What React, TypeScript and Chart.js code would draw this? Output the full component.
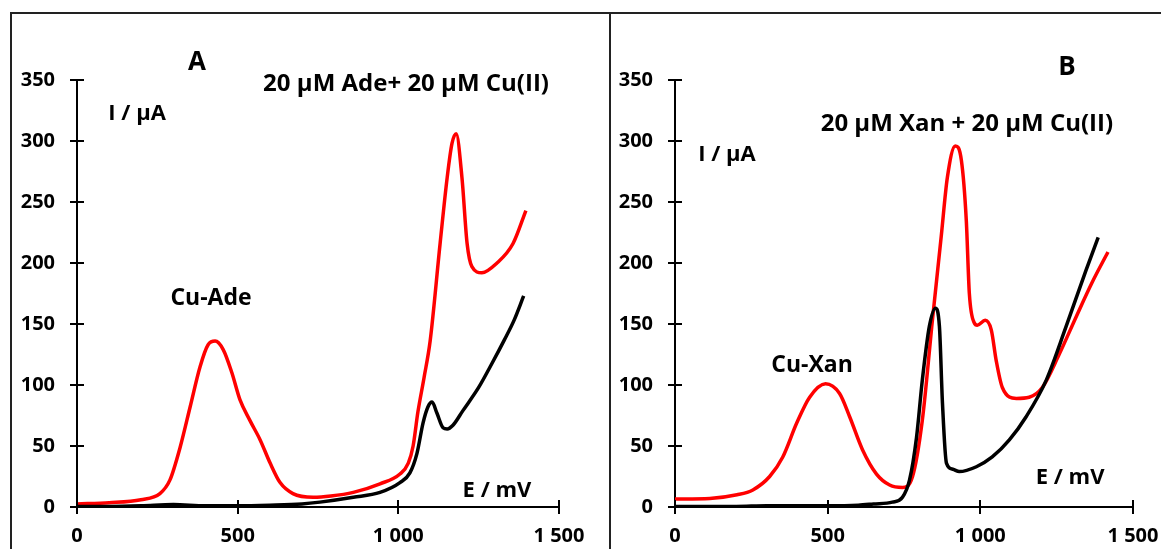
import React, { useEffect, useRef } from "react";
import { Chart, registerables } from "chart.js";

Chart.register(...registerables);

const FONT = '"Open Sans", "DejaVu Sans", sans-serif';

// ---------- Panel A : 20 µM Ade + 20 µM Cu(II) (red) and Ade alone (black) ----------
const adeCuE = [0, 100, 199, 258, 289, 321, 352, 383, 408, 430, 455, 482, 507, 538, 570, 601, 632, 672, 735, 790, 860, 943, 1005, 1031, 1046, 1061, 1080, 1099, 1130, 1152, 1167, 1180, 1198, 1214, 1229, 1260, 1307, 1357, 1397];
const adeCuI = [2.5, 3.5, 6, 11, 22, 49, 82, 115, 133, 136, 129, 110, 88, 71, 55, 36, 20, 11, 8, 9, 12, 19, 27, 36, 50, 78, 106, 136, 216, 270, 298, 306, 270, 216, 197, 192, 200, 216, 243];

const adeE = [0, 100, 200, 300, 400, 500, 600, 700, 756, 860, 943, 1005, 1036, 1058, 1077, 1092, 1105, 1120, 1139, 1152, 1170, 1201, 1250, 1290, 1330, 1360, 1390];
const adeI = [0.5, 0.5, 1, 2, 1, 1, 1.5, 2.5, 4, 8, 12, 20, 28, 44, 69, 82, 86, 77, 65, 64, 67, 79, 98, 117, 137, 153, 173];

// ---------- Panel B : 20 µM Xan + 20 µM Cu(II) (red) and Xan alone (black) ----------
const xanCuE = [0, 114, 203, 255, 310, 353, 399, 441, 493, 539, 572, 614, 660, 703, 745, 778, 810, 843, 872, 892, 918, 938, 954, 964, 980, 990, 1016, 1036, 1052, 1072, 1118, 1160, 1203, 1258, 1314, 1366, 1418];
const xanCuI = [6.5, 7, 10, 14, 25, 41, 69, 90, 101, 93, 74, 47, 27, 18, 16, 25, 71, 153, 222, 270, 296, 284, 235, 175, 151, 149, 153, 145, 120, 98, 89, 90, 98, 125, 156, 184, 209];

const xanE = [0, 100, 200, 300, 400, 500, 600, 650, 712, 745, 768, 791, 810, 833, 853, 866, 876, 889, 910, 931, 987, 1039, 1095, 1150, 1216, 1281, 1346, 1386];
const xanI = [0.5, 0.5, 0.5, 1, 1, 1, 1.5, 2.5, 4, 8, 22, 57, 104, 148, 163, 148, 85, 36, 31, 29, 33, 41, 55, 74, 104, 148, 194, 221];

// ---------- Axes ----------
const xTickValues = [0, 500, 1000, 1500];
const xTickLabels = ["0", "500", "1 000", "1 500"];
const yTickValues = [0, 50, 100, 150, 200, 250, 300, 350];
const yTickLabels = ["0", "50", "100", "150", "200", "250", "300", "350"];

// ---------- Annotation texts (placed in data coordinates) ----------
type Note = { text: string; x: number; y: number; size: number };

const notesA: Note[] = [
  { text: "A", x: 373, y: 364, size: 26 },
  { text: "20 µM Ade+ 20 µM Cu(II)", x: 1024, y: 346.5, size: 24 },
  { text: "I / µA", x: 187, y: 322, size: 22 },
  { text: "Cu-Ade", x: 417, y: 171, size: 23 },
  { text: "E / mV", x: 1307, y: 13, size: 22 },
];

const notesB: Note[] = [
  { text: "B", x: 1284, y: 360, size: 26 },
  { text: "20 µM Xan + 20 µM Cu(II)", x: 956, y: 314, size: 24 },
  { text: "I / µA", x: 170, y: 289, size: 22 },
  { text: "Cu-Xan", x: 449, y: 116, size: 23 },
  { text: "E / mV", x: 1294, y: 24, size: 22 },
];

type Series = { E: number[]; I: number[]; color: string };

const tickMarks = {
  id: "tickMarks",
  afterDraw(chart: any) {
    const { ctx, chartArea, scales } = chart;
    const x = scales.x;
    const y = scales.y;
    ctx.save();
    ctx.strokeStyle = "#000";
    ctx.lineWidth = 2;
    ctx.beginPath();
    for (const t of x.ticks) {
      const px = Math.round(x.getPixelForValue(t.value));
      ctx.moveTo(px, chartArea.bottom - 7);
      ctx.lineTo(px, chartArea.bottom + 7);
    }
    for (const t of y.ticks) {
      const py = Math.round(y.getPixelForValue(t.value));
      ctx.moveTo(chartArea.left - 7, py);
      ctx.lineTo(chartArea.left + 7, py);
    }
    ctx.stroke();
    ctx.restore();
  },
};

function makeNotesPlugin(notes: Note[]) {
  return {
    id: "notes",
    afterDraw(chart: any) {
      const { ctx, scales } = chart;
      ctx.save();
      ctx.fillStyle = "#000";
      ctx.textAlign = "center";
      ctx.textBaseline = "middle";
      for (const n of notes) {
        ctx.font = `bold ${n.size}px ${FONT}`;
        ctx.fillText(n.text, scales.x.getPixelForValue(n.x), scales.y.getPixelForValue(n.y));
      }
      ctx.restore();
    },
  };
}

function Panel(props: {
  left: number;
  width: number;
  axisLeft: number;
  axisRight: number;
  series: Series[];
  notes: Note[];
}) {
  const ref = useRef<HTMLCanvasElement | null>(null);
  const { left, width, axisLeft, axisRight, series, notes } = props;

  useEffect(() => {
    let chart: Chart | null = null;
    let cancelled = false;
    const make = () => {
      if (cancelled || !ref.current) return;
      const tickFont = { family: FONT, size: 20, weight: "bold" as const };
      chart = new Chart(ref.current, {
        type: "line",
        data: {
          datasets: series.map((s) => ({
            data: s.E.map((e, i) => ({ x: e, y: s.I[i] })),
            borderColor: s.color,
            backgroundColor: s.color,
            borderWidth: 3.5,
            pointRadius: 0,
            fill: false,
            cubicInterpolationMode: "monotone" as const,
          })),
        },
        options: {
          animation: false,
          responsive: false,
          events: [],
          layout: { padding: { left: 0, right: width - axisRight, top: 80, bottom: 0 } },
          plugins: { legend: { display: false }, tooltip: { enabled: false } },
          scales: {
            x: {
              type: "linear",
              min: 0,
              max: 1500,
              afterFit: (s: any) => {
                s.height = 42;
              },
              afterBuildTicks: (s: any) => {
                s.ticks = xTickValues.map((v) => ({ value: v }));
              },
              grid: { display: false, drawTicks: false, tickLength: 0 },
              border: { display: true, color: "#000", width: 2 },
              ticks: {
                padding: 17,
                color: "#000",
                font: tickFont,
                maxRotation: 0,
                autoSkip: false,
                callback: (_v: any, i: number) => xTickLabels[i],
              },
            },
            y: {
              type: "linear",
              min: 0,
              max: 350,
              afterFit: (s: any) => {
                s.width = axisLeft;
              },
              afterBuildTicks: (s: any) => {
                s.ticks = yTickValues.map((v) => ({ value: v }));
              },
              grid: { display: false, drawTicks: false, tickLength: 0 },
              border: { display: true, color: "#000", width: 2 },
              ticks: {
                padding: 22,
                color: "#000",
                font: tickFont,
                autoSkip: false,
                callback: (_v: any, i: number) => yTickLabels[i],
              },
            },
          },
        },
        plugins: [tickMarks, makeNotesPlugin(notes)],
      } as any);
    };
    if ((document as any).fonts && (document as any).fonts.load) {
      (document as any).fonts.load(`bold 20px "Open Sans"`).then(make, make);
    } else {
      make();
    }
    return () => {
      cancelled = true;
      if (chart) chart.destroy();
    };
  }, []);

  return (
    <canvas
      ref={ref}
      width={width}
      height={549}
      style={{ position: "absolute", left, top: 0, width, height: 549 }}
    />
  );
}

export default function App() {
  const frame = "#222";
  return (
    <div
      style={{
        position: "fixed",
        left: 0,
        top: 0,
        width: 1161,
        height: 549,
        overflow: "hidden",
        background: "#fff",
      }}
    >
      <Panel
        left={0}
        width={605}
        axisLeft={77}
        axisRight={559}
        series={[
          { E: adeE, I: adeI, color: "#000000" },
          { E: adeCuE, I: adeCuI, color: "#ff0000" },
        ]}
        notes={notesA}
      />
      <Panel
        left={612}
        width={600}
        axisLeft={63}
        axisRight={521}
        series={[
          { E: xanE, I: xanI, color: "#000000" },
          { E: xanCuE, I: xanCuI, color: "#ff0000" },
        ]}
        notes={notesB}
      />
      <div style={{ position: "absolute", left: 10, top: 12, width: 1151, height: 2, background: frame }} />
      <div style={{ position: "absolute", left: 10, top: 12, width: 2, height: 537, background: frame }} />
      <div style={{ position: "absolute", left: 609, top: 12, width: 2, height: 537, background: frame }} />
    </div>
  );
}
